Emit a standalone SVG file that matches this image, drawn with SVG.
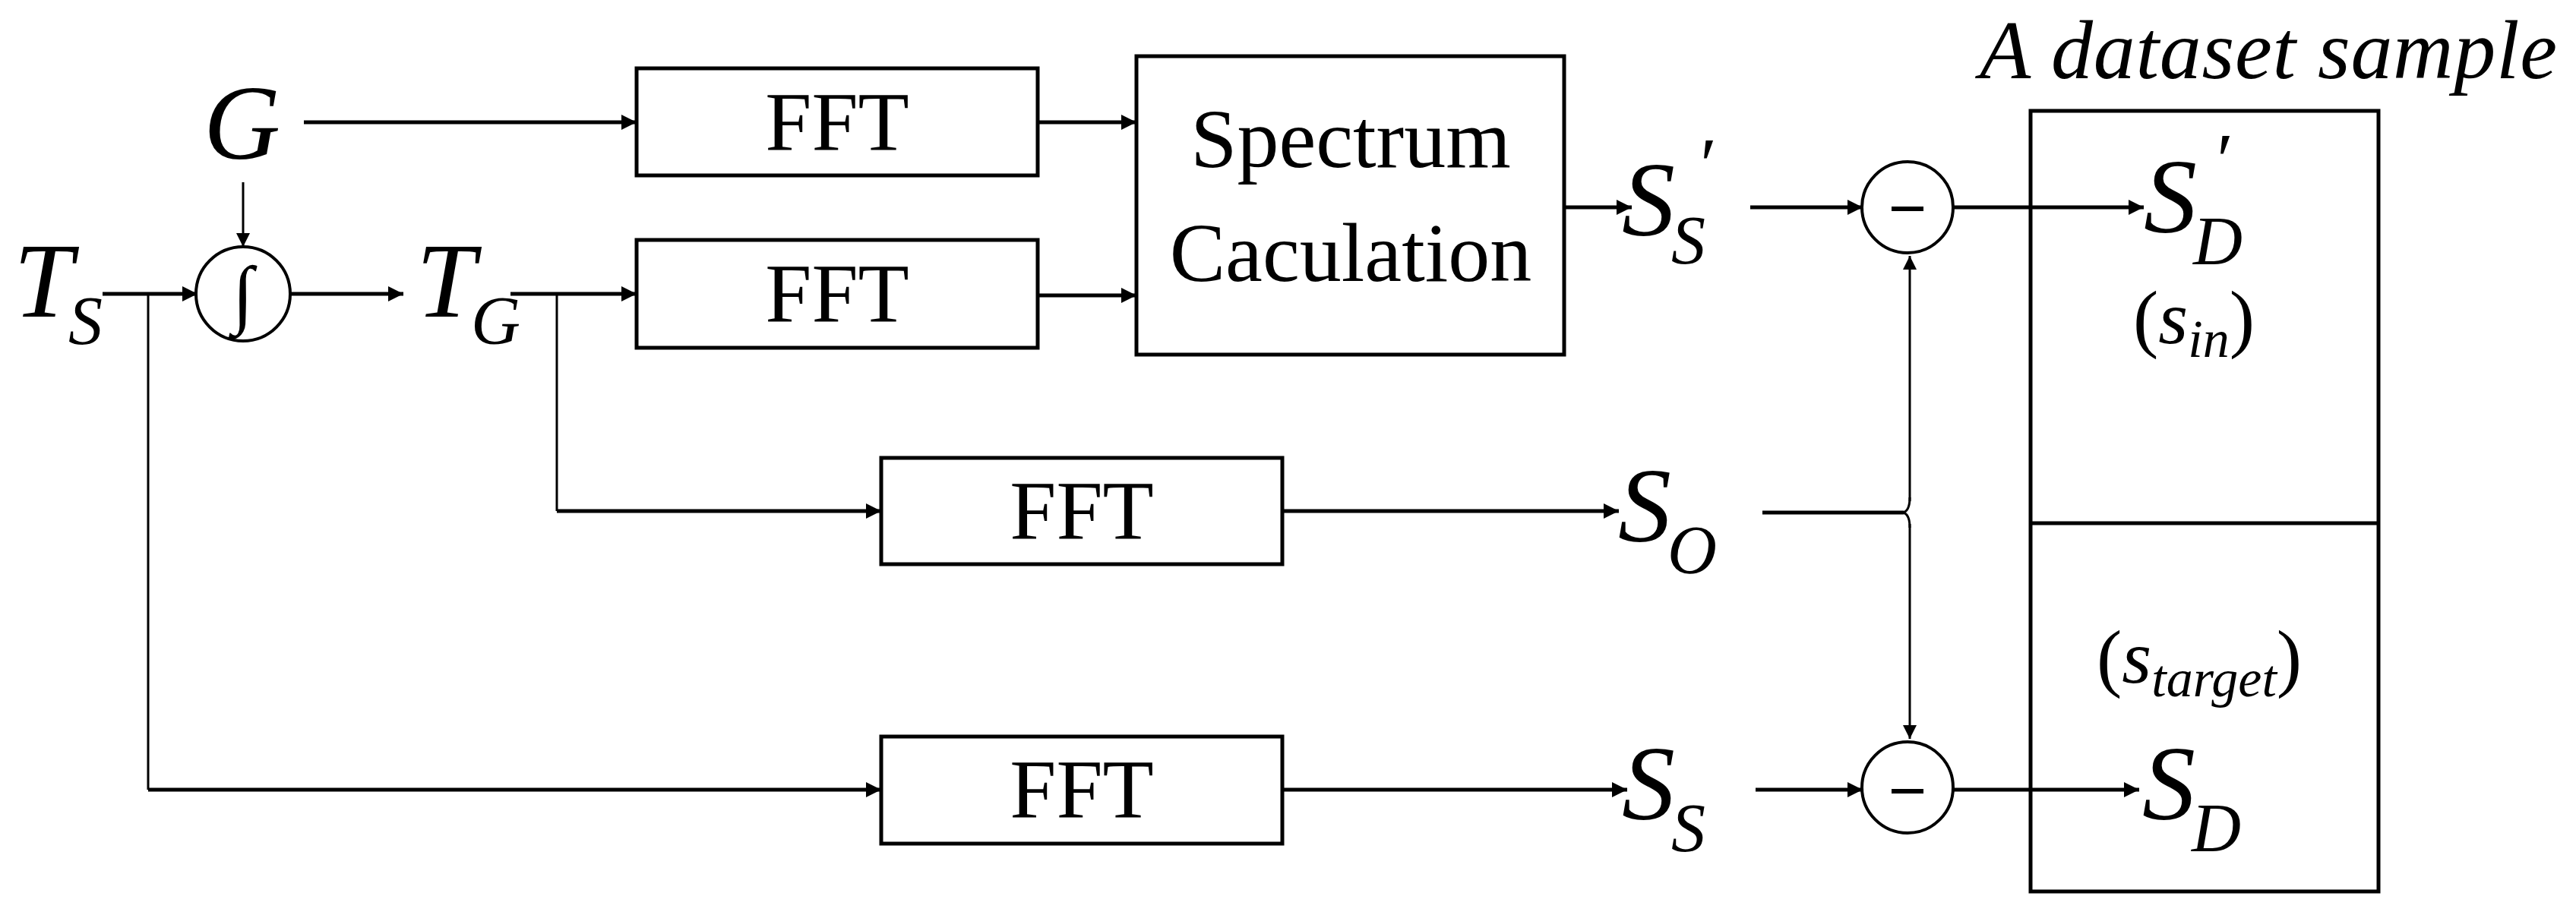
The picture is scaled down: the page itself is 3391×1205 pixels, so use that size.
<svg xmlns="http://www.w3.org/2000/svg" width="3391" height="1205" viewBox="0 0 3391 1205">
<style>
.box{fill:#fff;stroke:#000;stroke-width:5}
.nb{fill:none;stroke:#000;stroke-width:5}
.c{fill:none;stroke:#000;stroke-width:5}
.t{stroke:#000;stroke-width:3;fill:none}
text{font-family:'Liberation Serif','Times New Roman','DejaVu Serif',serif;fill:#000}
.lb{font-size:110px}
.m{font-style:italic}
.big{font-size:140px}
.sub{font-size:90px}
</style>
<defs>
<marker id="a" viewBox="0 0 10 10" refX="10" refY="5" markerWidth="4" markerHeight="4" orient="auto" markerUnits="strokeWidth"><path d="M0,0L10,5L0,10z" fill="#000"/></marker>
<marker id="b" viewBox="0 0 10 10" refX="10" refY="5" markerWidth="6" markerHeight="6" orient="auto" markerUnits="strokeWidth"><path d="M0,0L10,5L0,10z" fill="#000"/></marker>
</defs>
<rect width="3391" height="1205" fill="#fff"/>
<g id="connectors">
<path class="c" d="M400,161H838" marker-end="url(#a)"/>
<path class="c" d="M1366,161H1496" marker-end="url(#a)"/>
<path class="t" d="M320,240V325" marker-end="url(#b)"/>
<path class="c" d="M135,387H260" marker-end="url(#a)"/>
<path class="c" d="M380,387H531" marker-end="url(#a)"/>
<path class="c" d="M672,387H838" marker-end="url(#a)"/>
<path class="c" d="M1366,389H1496" marker-end="url(#a)"/>
<path class="t" d="M195,387V1040"/>
<path class="c" d="M195,1040H1160" marker-end="url(#a)"/>
<path class="t" d="M733,387V673"/>
<path class="c" d="M733,673H1160" marker-end="url(#a)"/>
<path class="c" d="M1688,673H2131" marker-end="url(#a)"/>
<path class="c" d="M1688,1040H2142" marker-end="url(#a)"/>
<path class="c" d="M2059,273H2148" marker-end="url(#a)"/>
<path class="c" d="M2304,273H2452" marker-end="url(#a)"/>
<path class="c" d="M2571,273H2822" marker-end="url(#a)"/>
<path class="c" d="M2311,1040H2452" marker-end="url(#a)"/>
<path class="c" d="M2571,1040H2816" marker-end="url(#a)"/>
<path class="c" d="M2320,675H2506"/>
<path class="t" d="M2514,660V337" marker-end="url(#b)"/>
<path class="t" d="M2514,690V973" marker-end="url(#b)"/>
<path class="t" d="M2514,655Q2514,673 2505,675Q2514,677 2514,695"/>
</g>
<g id="fft1"><rect class="box" x="838" y="90" width="528" height="141"/><text class="lb" x="1102" y="198" text-anchor="middle">FFT</text></g>
<g id="fft2"><rect class="box" x="838" y="316" width="528" height="142"/><text class="lb" x="1102" y="424" text-anchor="middle">FFT</text></g>
<g id="fft3"><rect class="box" x="1160" y="603" width="528" height="140"/><text class="lb" x="1424" y="710" text-anchor="middle">FFT</text></g>
<g id="fft4"><rect class="box" x="1160" y="970" width="528" height="141"/><text class="lb" x="1424" y="1077" text-anchor="middle">FFT</text></g>
<g id="spectrum"><rect class="box" x="1496" y="74" width="563" height="393"/><text class="lb" x="1778" y="220" text-anchor="middle">Spectrum</text><text class="lb" x="1778" y="370" text-anchor="middle">Caculation</text></g>
<g id="integ"><circle cx="320" cy="387" r="62" fill="#fff" stroke="#000" stroke-width="4"/><text class="m" x="320" y="420" font-size="100" text-anchor="middle">∫</text></g>
<g id="sub1"><circle cx="2511" cy="273" r="60" fill="#fff" stroke="#000" stroke-width="4"/><path d="M2490,275H2532" stroke="#000" stroke-width="6"/></g>
<g id="sub2"><circle cx="2511" cy="1037" r="60" fill="#fff" stroke="#000" stroke-width="4"/><path d="M2490,1042H2532" stroke="#000" stroke-width="6"/></g>
<g id="sample"><rect class="nb" x="2673" y="146" width="458" height="1028"/><path class="c" d="M2673,689H3131"/>
<text class="m" x="2606" y="103" font-size="110" textLength="760">A dataset sample</text></g>
<g id="labels">
<text class="m big" x="268" y="209">G</text>
<text class="m big" x="18" y="417">T<tspan class="sub" dx="-6" dy="36">S</tspan></text>
<text class="m big" x="548" y="417">T<tspan class="sub" dx="-6" dy="36">G</tspan></text>
<text class="m big" x="2135" y="310">S<tspan class="sub" dx="-5" dy="37">S</tspan></text>
<text class="m" x="2232" y="250" font-size="100">′</text>
<text class="m big" x="2130" y="713">S<tspan class="sub" dx="-5" dy="42">O</tspan></text>
<text class="m big" x="2135" y="1079">S<tspan class="sub" dx="-5" dy="42">S</tspan></text>
<text class="m big" x="2822" y="306">S<tspan class="sub" dx="-5" dy="42">D</tspan></text>
<text class="m" x="2912" y="244" font-size="100">′</text>
<text class="m" x="2808" y="452" font-size="100"><tspan font-style="normal">(</tspan>s<tspan font-size="70" dy="18">in</tspan><tspan font-style="normal" font-size="100" dy="-18">)</tspan></text>
<text class="m" x="2760" y="899" font-size="100"><tspan font-style="normal">(</tspan>s<tspan font-size="70" dy="18">target</tspan><tspan font-style="normal" font-size="100" dy="-18">)</tspan></text>
<text class="m big" x="2820" y="1079">S<tspan class="sub" dx="-5" dy="42">D</tspan></text>
</g>
</svg>
